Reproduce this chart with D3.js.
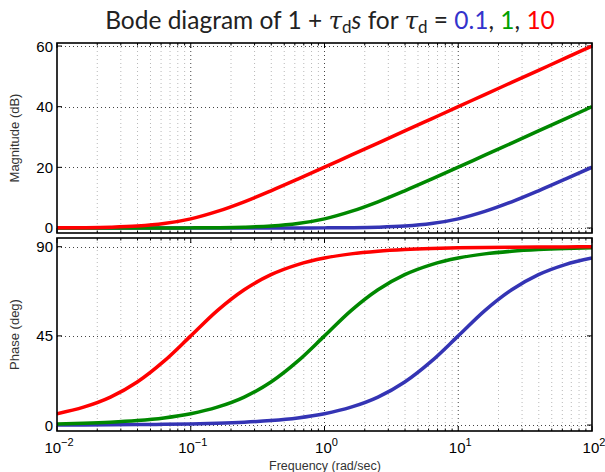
<!DOCTYPE html>
<html><head><meta charset="utf-8">
<script src="https://cdn.jsdelivr.net/npm/d3@7"></script>
<style>body{margin:0;background:#fff}svg{display:block}</style>
</head><body>
<svg id="c" width="605" height="472"></svg>
<script>
const frequencies = [0.01, 0.0158, 0.0251, 0.0398, 0.0631, 0.1, 0.158, 0.251, 0.398, 0.631, 1, 1.58, 2.51, 3.98, 6.31, 10, 15.8, 25.1, 39.8, 63.1, 100];
const taus = ["0.1", "1", "10"];
const magTau01 = [0,0,0,0,0,0,0,0,0.01,0.02,0.04,0.11,0.27,0.64,1.46,3.01,5.46,8.64,12.27,16.11,20.04];
const magTau1  = [0,0,0,0.01,0.02,0.04,0.11,0.27,0.64,1.46,3.01,5.46,8.64,12.27,16.11,20.04,24.02,28.01,32.00,36.00,40.00];
const magTau10 = [0.04,0.11,0.27,0.64,1.46,3.01,5.46,8.64,12.27,16.11,20.04,24.02,28.01,32.00,36.00,40.00,44.00,48.00,52.00,56.00,60.00];
const phaseTau01 = [0.06,0.09,0.14,0.23,0.36,0.57,0.91,1.44,2.28,3.61,5.71,9.01,14.10,21.72,32.25,45.00,57.75,68.28,75.90,80.99,84.29];
const phaseTau1  = [0.57,0.91,1.44,2.28,3.61,5.71,9.01,14.10,21.72,32.25,45.00,57.75,68.28,75.90,80.99,84.29,86.39,87.72,88.56,89.09,89.43];
const phaseTau10 = [5.71,9.01,14.10,21.72,32.25,45.00,57.75,68.28,75.90,80.99,84.29,86.39,87.72,88.56,89.09,89.43,89.64,89.77,89.86,89.91,89.94];
const xMajorTicks = [0.01, 0.1, 1, 10, 100];
const xTickExponents = ["\u22122", "\u22121", "0", "1", "2"];
const magTicks = [0, 20, 40, 60];
const phaseTicks = [0, 45, 90];

const colors = ["#3434b4", "#008800", "#ff0000"];
const titleColors = ["#3333cc", "#00a000", "#ff0000"];
const magSeries = [magTau01, magTau1, magTau10];
const phaseSeries = [phaseTau01, phaseTau1, phaseTau10];

const svg = d3.select("#c");
const L = 57, R = 592;
const x = d3.scaleLog().domain([0.01, 100]).range([L, R]);
const yMag = d3.scaleLinear().domain([-1.65, 61]).range([233, 43]);
const yPh = d3.scaleLinear().domain([-3, 94.4]).range([431, 238]);

const minor = [];
for (let d = -2; d < 2; d++) for (let k = 2; k <= 9; k++) minor.push(k * Math.pow(10, d));

function panel(y, yTicks, series, id) {
  const [b, t] = y.range();
  const g = svg.append("g");
  g.append("clipPath").attr("id", id).append("rect").attr("x", L).attr("y", t).attr("width", R - L).attr("height", b - t);
  g.selectAll(null).data(minor).join("line")
    .attr("x1", d => x(d)).attr("x2", d => x(d)).attr("y1", t).attr("y2", b)
    .attr("stroke", "#b8b8b8").attr("stroke-width", 1).attr("stroke-dasharray", "1,3");
  g.selectAll(null).data(xMajorTicks.slice(1, -1)).join("line")
    .attr("x1", d => x(d)).attr("x2", d => x(d)).attr("y1", t).attr("y2", b)
    .attr("stroke", "#444").attr("stroke-width", 1).attr("stroke-dasharray", "1,3");
  g.selectAll(null).data(yTicks).join("line")
    .attr("x1", L).attr("x2", R).attr("y1", d => Math.round(y(d)) + 0.5).attr("y2", d => Math.round(y(d)) + 0.5)
    .attr("stroke", "#444").attr("stroke-width", 1).attr("stroke-dasharray", "1,3");
  const tk = (vals, len) => {
    g.selectAll(null).data(vals).join("line")
      .attr("x1", d => x(d)).attr("x2", d => x(d)).attr("y1", b).attr("y2", b - len).attr("stroke", "#000");
    g.selectAll(null).data(vals).join("line")
      .attr("x1", d => x(d)).attr("x2", d => x(d)).attr("y1", t).attr("y2", t + len).attr("stroke", "#000");
  };
  tk(xMajorTicks, 5); tk(minor, 2.5);
  g.selectAll(null).data(yTicks).join("line")
    .attr("x1", L).attr("x2", L + 5).attr("y1", d => y(d)).attr("y2", d => y(d)).attr("stroke", "#000");
  g.selectAll(null).data(yTicks).join("line")
    .attr("x1", R).attr("x2", R - 5).attr("y1", d => y(d)).attr("y2", d => y(d)).attr("stroke", "#000");
  const line = d3.line().x((d, i) => x(frequencies[i])).y(d => y(d)).curve(d3.curveMonotoneX);
  const cg = g.append("g").attr("clip-path", `url(#${id})`);
  series.forEach((s, i) => {
    cg.append("path").attr("d", line(s)).attr("fill", "none")
      .attr("stroke", colors[i]).attr("stroke-width", 3.5).attr("stroke-linejoin", "round");
  });
  g.append("rect").attr("x", L).attr("y", t).attr("width", R - L).attr("height", b - t)
    .attr("fill", "none").attr("stroke", "#000").attr("stroke-width", 1.6);
  g.selectAll(null).data(yTicks).join("text")
    .attr("x", L - 4).attr("y", d => y(d) + 5.5).attr("text-anchor", "end")
    .attr("font-family", "Liberation Sans, Arial, sans-serif").attr("font-size", 15).attr("fill", "#000")
    .text(d => d);
}

panel(yMag, magTicks, magSeries, "clipMag");
panel(yPh, phaseTicks, phaseSeries, "clipPh");

const xl = svg.append("g").attr("font-family", "Liberation Sans, Arial, sans-serif").attr("fill", "#000");
xMajorTicks.forEach((v, i) => {
  const t = xl.append("text").attr("x", x(v) + 2).attr("y", 453).attr("text-anchor", "middle").attr("font-size", 15);
  t.append("tspan").text("10");
  t.append("tspan").attr("dy", -7).attr("font-size", 11).text(xTickExponents[i]);
});

const lab = svg.append("g").attr("font-family", "Liberation Sans, Arial, sans-serif").attr("font-size", 12.5).attr("fill", "#333");
lab.append("text").attr("transform", `translate(19,${(yMag.range()[0] + yMag.range()[1]) / 2}) rotate(-90)`)
  .attr("text-anchor", "middle").attr("font-size", 13).text("Magnitude (dB)");
lab.append("text").attr("transform", `translate(19,${(yPh.range()[0] + yPh.range()[1]) / 2}) rotate(-90)`)
  .attr("text-anchor", "middle").attr("font-size", 13).text("Phase (deg)");
lab.append("text").attr("x", 325).attr("y", 469.5).attr("text-anchor", "middle").text("Frequency (rad/sec)");

const title = svg.append("text").attr("x", 330).attr("y", 29).attr("text-anchor", "middle")
  .attr("font-family", "Lato, 'Open Sans', sans-serif").attr("font-size", 24.5).attr("fill", "#222");
title.append("tspan").text("Bode diagram of 1 + ");
title.append("tspan").attr("font-style", "italic").attr("font-family", "DejaVu Serif").text("\u03c4");
title.append("tspan").attr("font-size", 17).attr("dy", 4).text("d");
title.append("tspan").attr("font-style", "italic").attr("dy", -4).text("s");
title.append("tspan").text(" for ");
title.append("tspan").attr("font-style", "italic").attr("font-family", "DejaVu Serif").text("\u03c4");
title.append("tspan").attr("font-size", 17).attr("dy", 4).text("d");
title.append("tspan").attr("dy", -4).text(" = ");
taus.forEach((tv, i) => {
  title.append("tspan").attr("fill", titleColors[i]).text(tv);
  if (i < taus.length - 1) title.append("tspan").text(", ");
});
</script>
</body></html>
